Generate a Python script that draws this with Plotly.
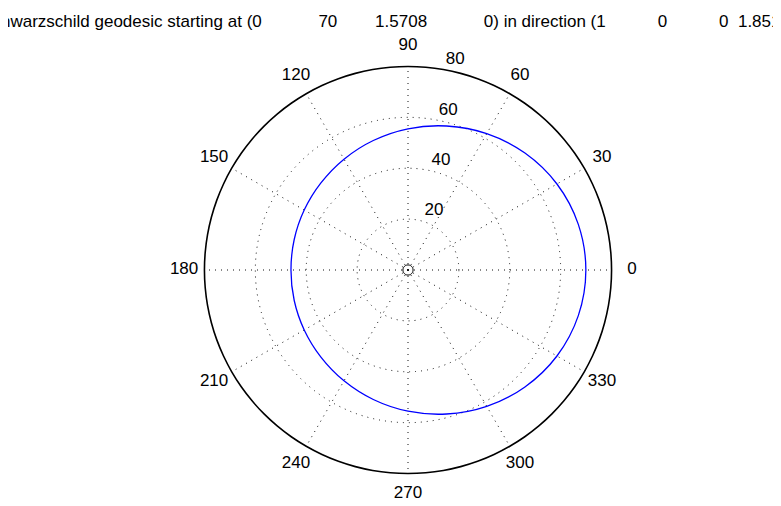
import plotly.graph_objects as go

# --- data ---
orbit_theta = [0, 15, 30, 45, 60, 75, 90, 105, 120, 135, 150, 165, 180,
               195, 210, 225, 240, 255, 270, 285, 300, 315, 330, 345, 360]
orbit_r = [69.9, 69.3, 67.6, 65.0, 61.9, 58.6, 55.5, 52.7, 50.3, 48.4, 47.1, 46.3, 46.0,
           46.3, 47.1, 48.4, 50.3, 52.7, 55.5, 58.6, 61.9, 65.0, 67.6, 69.3, 69.9]
horizon_theta = list(range(0, 361, 15))
horizon_r = [2] * len(horizon_theta)
r_max = 80
angle_ticks = [0, 30, 60, 90, 120, 150, 180, 210, 240, 270, 300, 330]
angle_label_r = [88] * len(angle_ticks)
radial_ticks = [20, 40, 60]
radial_labels = [20, 40, 60, 80]
radial_label_angle = [82, 82, 82, 82]

sp = "\u00a0"
title_text = ("Schwarzschild geodesic starting at (0" + sp * 12 + "70" + sp * 8 + "1.5708"
              + sp * 12 + "0) in direction (1" + sp * 11 + "0" + sp * 11 + "0" + sp * 2 + "1.8516)")

FONT = "Liberation Sans, Arial, sans-serif"
FS = 17
DOT = "1px,5px"

# outer frame circle and spokes (from the tick lists)
frame_theta = list(range(0, 361, 5))
frame_r = [r_max] * len(frame_theta)
spoke_r, spoke_theta = [], []
for a in angle_ticks:
    spoke_r += [0, r_max, None]
    spoke_theta += [a, a, None]

fig = go.Figure()
fig.add_trace(go.Scatterpolar(r=spoke_r, theta=spoke_theta, mode="lines",
                              line=dict(color="#111", width=1, dash=DOT),
                              hoverinfo="skip", showlegend=False))
fig.add_trace(go.Scatterpolar(r=frame_r, theta=frame_theta, mode="lines",
                              line=dict(color="black", width=1.6, shape="spline"),
                              hoverinfo="skip", showlegend=False))
fig.add_trace(go.Scatterpolar(r=horizon_r, theta=horizon_theta, mode="lines",
                              line=dict(color="black", width=1, shape="spline"),
                              hoverinfo="skip", showlegend=False))
fig.add_trace(go.Scatterpolar(r=orbit_r, theta=orbit_theta, mode="lines",
                              line=dict(color="#0000ff", width=1.3, shape="spline"),
                              showlegend=False))
fig.add_trace(go.Scatterpolar(r=radial_labels, theta=radial_label_angle, mode="text",
                              text=[sp * 2 + str(v) for v in radial_labels],
                              textposition="top right",
                              textfont=dict(family=FONT, size=FS, color="black"),
                              cliponaxis=False, hoverinfo="skip", showlegend=False))
fig.add_trace(go.Scatterpolar(r=angle_label_r, theta=angle_ticks, mode="text",
                              text=[str(a) for a in angle_ticks],
                              textposition="middle center",
                              textfont=dict(family=FONT, size=FS, color="black"),
                              cliponaxis=False, hoverinfo="skip", showlegend=False))

fig.update_layout(
    width=781, height=506,
    margin=dict(l=170.5, r=151.5, t=32.5, b=14.5),
    paper_bgcolor="white", plot_bgcolor="white",
    font=dict(family=FONT, size=FS, color="black"),
    title=dict(text=title_text, xref="container", x=0.487, xanchor="center",
               yref="container", y=0.974, yanchor="middle",
               font=dict(family=FONT, size=FS, color="black")),
    polar=dict(
        bgcolor="white",
        domain=dict(x=[0, 1], y=[0, 1]),
        radialaxis=dict(range=[0, 90], tickvals=radial_ticks, showticklabels=False,
                        showline=False, ticks="", gridcolor="#111", gridwidth=1,
                        griddash=DOT),
        angularaxis=dict(rotation=0, direction="counterclockwise",
                         tickvals=angle_ticks, showticklabels=False, ticks="",
                         showline=False, showgrid=False),
    ),
)

fig.write_html("out.html")
